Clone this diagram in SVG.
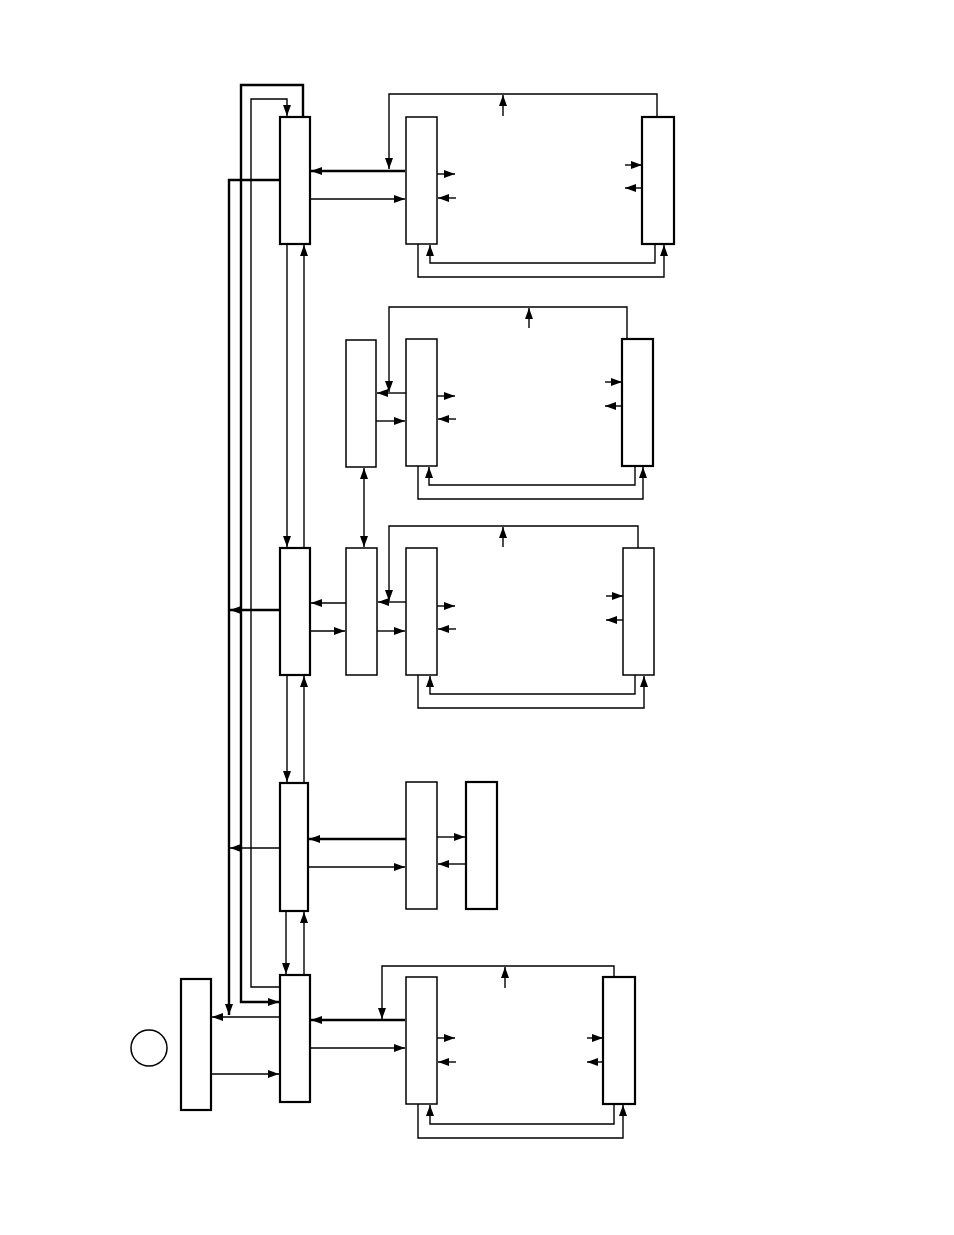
<svg xmlns="http://www.w3.org/2000/svg" width="954" height="1235" viewBox="0 0 954 1235">
<defs>
<marker id="a" markerUnits="userSpaceOnUse" markerWidth="11" markerHeight="8" refX="11" refY="4" orient="auto-start-reverse"><path d="M0,0 L11,4 L0,8 z" fill="#000"/></marker>
</defs>
<style>
.b{fill:#fff;stroke:#000;stroke-width:1.5}
.h{fill:#fff;stroke:#000;stroke-width:2.2}
.c{fill:none;stroke:#000;stroke-width:1.4}
.t{fill:none;stroke:#000;stroke-width:2.4}
.ar{marker-end:url(#a)}
</style>
<rect width="954" height="1235" fill="#fff"/>
<g id="connectors">
<!-- left long lines -->
<path class="t ar" d="M280,180 H229 V1015"/>
<path class="t ar" d="M303,117 V85 H241 V1002 H279"/>
<path class="c ar" d="M280,987 H251 V99 H287 V116"/>
<!-- hub verticals -->
<path class="c ar" d="M287,244 V547"/>
<path class="c ar" d="M304,548 V245"/>
<path class="c ar" d="M287,675 V782"/>
<path class="c ar" d="M304,783 V676"/>
<path class="c ar" d="M286,911 V974"/>
<path class="c ar" d="M304,975 V912"/>
<!-- row 1 -->
<path class="t ar" d="M405,171 H311"/>
<path class="c ar" d="M657,117 V94 H389 V169"/>
<path class="c ar" d="M503,116 V95"/>
<path class="c ar" d="M310,199 H405"/>
<path class="c ar" d="M437,174 H455"/>
<path class="c ar" d="M456,198 H438"/>
<path class="c ar" d="M625,165 H642"/>
<path class="c ar" d="M642,188 H625"/>
<path class="c ar" d="M655,244 V263 H430 V245"/>
<path class="c ar" d="M418,244 V277 H664 V245"/>
<!-- row 2 -->
<path class="c ar" d="M627,339 V307 H389 V392"/>
<path class="c ar" d="M406,393 H377"/>
<path class="c ar" d="M376,421 H405"/>
<path class="c ar" d="M529,328 V308"/>
<path class="c ar" d="M437,396 H455"/>
<path class="c ar" d="M456,419 H438"/>
<path class="c ar" d="M605,382 H622"/>
<path class="c ar" d="M622,406 H605"/>
<path class="c ar" d="M635,466 V485 H429 V467"/>
<path class="c ar" d="M418,466 V499 H643 V467"/>
<path class="c ar" d="M364,468 V547" marker-start="url(#a)"/>
<!-- row 3 -->
<path class="c ar" d="M638,548 V526 H389 V601"/>
<path class="c ar" d="M406,602 H378"/>
<path class="c ar" d="M346,603 H311"/>
<path class="c ar" d="M310,631 H345"/>
<path class="c ar" d="M377,631 H405"/>
<path class="c ar" d="M503,547 V527"/>
<path class="t ar" d="M280,610 H230"/>
<path class="c ar" d="M437,606 H455"/>
<path class="c ar" d="M456,629 H438"/>
<path class="c ar" d="M606,596 H623"/>
<path class="c ar" d="M623,620 H606"/>
<path class="c ar" d="M635,675 V694 H430 V676"/>
<path class="c ar" d="M418,675 V708 H644 V676"/>
<!-- row 4 -->
<path class="t ar" d="M406,839 H309"/>
<path class="c ar" d="M308,867 H405"/>
<path class="c ar" d="M437,837 H465"/>
<path class="c ar" d="M466,864 H438"/>
<path class="c ar" d="M280,848 H230"/>
<!-- row 5 -->
<path class="c ar" d="M280,1017 H212"/>
<path class="c ar" d="M211,1074 H279"/>
<path class="t ar" d="M405,1020 H311"/>
<path class="c ar" d="M614,977 V966 H382 V1019"/>
<path class="c ar" d="M310,1048 H405"/>
<path class="c ar" d="M505,988 V967"/>
<path class="c ar" d="M437,1038 H455"/>
<path class="c ar" d="M456,1062 H438"/>
<path class="c ar" d="M587,1038 H603"/>
<path class="c ar" d="M603,1062 H587"/>
<path class="c ar" d="M614,1104 V1124 H430 V1105"/>
<path class="c ar" d="M418,1104 V1138 H623 V1105"/>
</g>
<g id="hub1"><rect class="h" x="280" y="117" width="30" height="127"/></g>
<g id="hub2"><rect class="h" x="280" y="548" width="30" height="127"/></g>
<g id="hub3"><rect class="h" x="280" y="783" width="28" height="128"/></g>
<g id="hub4"><rect class="h" x="280" y="975" width="30" height="127"/></g>
<g id="r1l"><rect class="b" x="406" y="117" width="31" height="127"/></g>
<g id="r1r"><rect class="h" x="642" y="117" width="32" height="127"/></g>
<g id="r2a"><rect class="b" x="346" y="340" width="30" height="127"/></g>
<g id="r2l"><rect class="b" x="406" y="339" width="31" height="127"/></g>
<g id="r2r"><rect class="h" x="622" y="339" width="31" height="127"/></g>
<g id="r3a"><rect class="b" x="346" y="548" width="31" height="127"/></g>
<g id="r3l"><rect class="b" x="406" y="548" width="31" height="127"/></g>
<g id="r3r"><rect class="b" x="623" y="548" width="31" height="127"/></g>
<g id="r4c"><rect class="b" x="406" y="782" width="31" height="127"/></g>
<g id="r4d"><rect class="h" x="466" y="782" width="31" height="127"/></g>
<g id="r5l"><rect class="b" x="406" y="977" width="31" height="127"/></g>
<g id="r5r"><rect class="h" x="603" y="977" width="32" height="127"/></g>
<g id="left"><rect class="h" x="181" y="979" width="30" height="131"/></g>
<g id="circle"><circle cx="149" cy="1048" r="18" fill="#fff" stroke="#000" stroke-width="1.5"/></g>
</svg>
